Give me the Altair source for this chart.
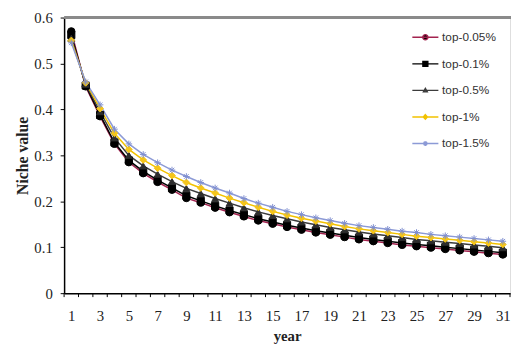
import altair as alt
import pandas as pd

years = list(range(1, 32))
series_names = ["top-0.05%", "top-0.1%", "top-0.5%", "top-1%", "top-1.5%"]

v_005 = [0.570, 0.450, 0.385, 0.325, 0.285, 0.261, 0.242, 0.225, 0.207, 0.197,
         0.186, 0.176, 0.167, 0.158, 0.151, 0.144, 0.138, 0.132, 0.127, 0.122,
         0.117, 0.113, 0.109, 0.105, 0.102, 0.099, 0.096, 0.093, 0.090, 0.087, 0.084]
v_01 = [0.562, 0.452, 0.388, 0.328, 0.289, 0.265, 0.246, 0.229, 0.212, 0.201,
        0.190, 0.180, 0.171, 0.162, 0.155, 0.148, 0.142, 0.136, 0.131, 0.126,
        0.121, 0.117, 0.113, 0.109, 0.106, 0.103, 0.100, 0.097, 0.094, 0.091, 0.088]
v_05 = [0.555, 0.455, 0.395, 0.338, 0.300, 0.277, 0.259, 0.243, 0.228, 0.217,
        0.206, 0.196, 0.186, 0.177, 0.169, 0.162, 0.155, 0.149, 0.143, 0.138,
        0.133, 0.129, 0.125, 0.121, 0.117, 0.114, 0.111, 0.108, 0.105, 0.102, 0.099]
v_1 = [0.550, 0.458, 0.402, 0.348, 0.313, 0.290, 0.272, 0.256, 0.241, 0.229,
       0.218, 0.207, 0.197, 0.187, 0.178, 0.170, 0.163, 0.157, 0.151, 0.145,
       0.140, 0.136, 0.132, 0.128, 0.124, 0.121, 0.118, 0.115, 0.112, 0.109, 0.106]
v_15 = [0.545, 0.460, 0.410, 0.357, 0.325, 0.302, 0.284, 0.268, 0.254, 0.241,
        0.229, 0.218, 0.206, 0.196, 0.187, 0.178, 0.171, 0.164, 0.158, 0.152,
        0.147, 0.143, 0.139, 0.135, 0.132, 0.128, 0.125, 0.122, 0.119, 0.116, 0.113]

all_values = [v_005, v_01, v_05, v_1, v_15]

x_label_years = [y for y in years if y % 2 == 1]
x_tick_bounds = [y - 0.5 for y in years] + [years[-1] + 0.5]
y_ticks = [0, 0.1, 0.2, 0.3, 0.4, 0.5, 0.6]

line_colors = ["#A3234F", "#000000", "#3C3C3C", "#F2C200", "#8C9AD6"]
marker_fills = ["#000000", "#000000", "#2E2E2E", "#F5C51A", "#7F8FD0"]
marker_shapes = [
    "circle",
    "square",
    "triangle-up",
    "diamond",
    "M-1,0H1M0,-1V1M-0.7,-0.7L0.7,0.7M-0.7,0.7L0.7,-0.7",
]
marker_sizes = [55, 45, 25, 30, 40]
legend_paths = [
    "M-1,0H1M-0.2,0A0.2,0.2 0 1,0 0.2,0A0.2,0.2 0 1,0 -0.2,0Z",
    "M-1,0H1M-0.19,-0.19H0.19V0.19H-0.19Z",
    "M-1,0H1M0,-0.16L0.15,0.11H-0.15Z",
    "M-1,0H1M0,-0.18L0.16,0L0,0.18L-0.16,0Z",
    "M-1,0H1M-0.13,-0.13L0.13,0.13M-0.13,0.13L0.13,-0.13M0,-0.18V0.18",
]

rows = []
for name, vals in zip(series_names, all_values):
    for yr, v in zip(years, vals):
        rows.append({"year": yr, "value": v, "series": name})
df = pd.DataFrame(rows)
ticks_df = pd.DataFrame({"year": x_tick_bounds})
border_df = pd.DataFrame({"value": [y_ticks[-1]]})

W = 453
H = 280
serif = "Liberation Serif"

x_enc = alt.X(
    "year:Q",
    scale=alt.Scale(domain=[0.5, 31.5], nice=False, zero=False),
    axis=alt.Axis(
        values=x_label_years,
        format="d",
        ticks=False,
        tickSize=0,
        labelOverlap=False,
        labelFlush=False,
        labelPadding=16,
        domainColor="#000",
        domainWidth=1.5,
        grid=False,
        title="year",
        titleFont=serif,
        titleFontSize=15,
        titleFontWeight="bold",
        titlePadding=5,
        labelFont=serif,
        labelFontSize=15,
        labelColor="#222",
        titleColor="#222",
    ),
)

y_enc = alt.Y(
    "value:Q",
    scale=alt.Scale(domain=[0, 0.6], nice=False),
    axis=alt.Axis(
        values=y_ticks,
        labelExpr="datum.value == 0 ? '0' : format(datum.value, '.1f')",
        tickSize=4,
        tickColor="#000",
        labelPadding=8,
        domainColor="#000",
        domainWidth=1.5,
        grid=False,
        title="Niche value",
        titleFont=serif,
        titleFontSize=16,
        titleFontWeight="bold",
        titlePadding=3,
        labelFont=serif,
        labelFontSize=15,
        labelColor="#222",
        titleColor="#222",
    ),
)

lines = alt.Chart(df).mark_line(strokeWidth=1.5).encode(
    x=x_enc,
    y=y_enc,
    color=alt.Color(
        "series:N",
        scale=alt.Scale(domain=series_names, range=line_colors),
        legend=None,
    ),
    detail="series:N",
)

points = alt.Chart(df).mark_point(filled=False, strokeWidth=1, opacity=1).encode(
    x=x_enc,
    y=y_enc,
    shape=alt.Shape("series:N", scale=alt.Scale(domain=series_names, range=marker_shapes), legend=None),
    fill=alt.Fill("series:N", scale=alt.Scale(domain=series_names, range=marker_fills), legend=None),
    stroke=alt.Stroke("series:N", scale=alt.Scale(domain=series_names, range=marker_fills), legend=None),
    size=alt.Size("series:N", scale=alt.Scale(domain=series_names, range=marker_sizes), legend=None),
)

legend = alt.Legend(
    title=None,
    orient="none",
    legendX=353,
    legendY=6,
    symbolSize=700,
    symbolStrokeWidth=1.4,
    rowPadding=7,
    labelFont="Liberation Sans",
    labelFontSize=12,
    labelColor="#333",
    labelOffset=3,
)

legend_layer = alt.Chart(df).transform_filter("false").mark_point(
    filled=False, strokeWidth=1.4, opacity=1
).encode(
    x=x_enc,
    y=y_enc,
    shape=alt.Shape("series:N", scale=alt.Scale(domain=series_names, range=legend_paths), legend=legend),
    fill=alt.Fill("series:N", scale=alt.Scale(domain=series_names, range=marker_fills), legend=legend),
    stroke=alt.Stroke("series:N", scale=alt.Scale(domain=series_names, range=line_colors), legend=legend),
)

x_ticks = alt.Chart(ticks_df).mark_rule(color="#000", strokeWidth=1).encode(
    x=x_enc,
    y=alt.value(H),
    y2=alt.value(H + 4),
)

top_border = alt.Chart(border_df).mark_rule(
    color="#8A8A8A", strokeWidth=3
).encode(y=y_enc, x=alt.value(0), x2=alt.value(W + 5))

chart = alt.layer(lines, points, legend_layer, x_ticks, top_border).resolve_scale(
    shape="independent", fill="independent", stroke="independent"
).properties(
    width=W,
    height=H,
    autosize=alt.AutoSizeParams(type="none"),
    padding={"left": 57, "top": 7, "right": 1, "bottom": 53},
).configure_view(stroke=None).configure_axisX(labelOverlap=False).configure(background="white")

chart.save("out.html", embed_options={"renderer": "svg", "actions": False})
